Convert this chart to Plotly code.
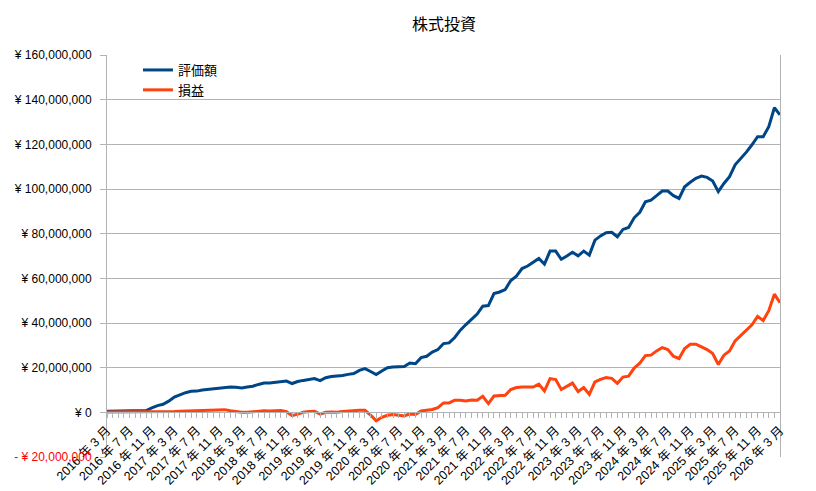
import plotly.graph_objects as go

# ---- data (millions of yen), monthly from 2016-03 to 2026-03 ----
start_year, start_month, n_months = 2016, 3, 121
months = []
for k in range(n_months):
    m = start_month - 1 + k
    months.append(f"{start_year + m // 12} 年 {m % 12 + 1} 月")

valuation_m = [
    0.5, 0.5, 0.5, 0.5, 0.5, 0.5, 0.5, 0.8, 2.0, 3.0,
    3.6, 5.0, 6.8, 7.8, 8.8, 9.4, 9.5, 10.0, 10.3, 10.6,
    11.0, 11.3, 11.3, 11.2, 10.9, 11.3, 11.7, 12.5, 13.1, 13.1,
    13.5, 13.9, 14.0, 12.9, 13.8, 14.3, 14.8, 15.1, 14.2, 15.5,
    16.0, 16.1, 16.5, 17.0, 17.4, 18.8, 19.6, 18.3, 16.9, 18.5,
    20.0, 20.3, 20.4, 20.5, 22.1, 21.8, 24.5, 25.1, 27.0, 28.1,
    30.8, 31.1, 33.5, 36.8, 39.3, 41.5, 44.0, 47.5, 47.8, 53.2,
    53.9, 55.0, 59.0, 61.0, 64.4, 65.5, 67.4, 68.9, 66.4, 72.2,
    72.2, 68.5, 70.0, 71.7, 70.1, 72.2, 70.4, 77.1, 79.0, 80.4,
    80.6, 78.6, 81.9, 82.8, 87.1, 89.6, 94.3, 95.0, 97.0, 99.1,
    99.1, 97.0, 95.8, 101.0, 103.0, 104.8, 105.8, 105.2, 103.6, 98.8,
    102.5, 105.5, 110.8, 113.5, 116.5, 119.8, 123.4, 123.4, 127.9, 136.4,
    133.2,
]

profit_m = [
    0.1, 0.1, 0.1, 0.1, 0.1, 0.1, 0.1, 0.1, 0.2, 0.2,
    0.3, 0.3, 0.4, 0.5, 0.6, 0.6, 0.7, 0.8, 0.9, 1.0,
    1.0, 1.2, 0.7, 0.2, 0.0, 0.0, 0.3, 0.4, 0.7, 0.6,
    0.6, 0.8, 0.3, -1.5, -0.8, 0.0, 0.4, 0.5, -0.8, 0.0,
    0.1, 0.0, 0.4, 0.6, 0.9, 0.9, 0.9, -1.2, -3.8, -2.2,
    -1.3, -1.0, -1.3, -1.6, -0.7, -1.0, 0.6, 1.0, 1.3, 2.1,
    4.2, 4.2, 5.4, 5.4, 5.1, 5.5, 5.4, 7.2, 3.9, 7.3,
    7.4, 7.6, 10.2, 11.1, 11.3, 11.3, 11.3, 12.6, 9.6, 15.1,
    14.7, 10.2, 11.6, 13.1, 9.3, 11.1, 8.0, 13.6, 14.8, 15.6,
    15.2, 13.0, 15.8, 16.2, 19.8, 22.0, 25.4, 25.6, 27.5, 29.0,
    28.1, 25.1, 24.1, 28.6, 30.5, 30.5, 29.3, 28.1, 26.3, 21.4,
    25.6, 27.5, 32.0, 34.3, 36.5, 39.2, 43.0, 41.1, 45.5, 52.9,
    49.1,
]

valuation = [v * 1_000_000 for v in valuation_m]
profit = [v * 1_000_000 for v in profit_m]

y_tickvals = [-20_000_000, 0, 20_000_000, 40_000_000, 60_000_000, 80_000_000,
              100_000_000, 120_000_000, 140_000_000, 160_000_000]
y_ticktext = ["<span style='color:#ff0000'>- ¥ 20,000,000</span>", "¥ 0",
              "¥ 20,000,000", "¥ 40,000,000", "¥ 60,000,000", "¥ 80,000,000",
              "¥ 100,000,000", "¥ 120,000,000", "¥ 140,000,000", "¥ 160,000,000"]

label_every = 4
x_ticktext = [m if i % label_every == 0 else "" for i, m in enumerate(months)]

series_names = ["評価額", "損益"]
series_colors = ["#004586", "#ff420e"]

FONT = "Liberation Sans, Noto Sans CJK JP, sans-serif"
GRID = "#b3b3b3"

fig = go.Figure()
fig.add_trace(go.Scatter(x=months, y=valuation, mode="lines", name=series_names[0],
                         line=dict(color=series_colors[0], width=3)))
fig.add_trace(go.Scatter(x=months, y=profit, mode="lines", name=series_names[1],
                         line=dict(color=series_colors[1], width=3)))

y_min, y_max = -20_000_000, 160_000_000
zero_pos = (0 - y_min) / (y_max - y_min)

fig.update_layout(
    width=816, height=491,
    margin=dict(l=99, r=44, t=47, b=42, autoexpand=False),
    paper_bgcolor="white", plot_bgcolor="white",
    font=dict(family=FONT, size=12, color="black"),
    title=dict(text="株式投資", x=436 / 816, xanchor="center",
               y=1 - 16 / 491, yanchor="middle", yref="container",
               font=dict(family=FONT, size=16, color="black"), automargin=False),
    showlegend=True,
    legend=dict(x=0.046, y=1.0, xanchor="left", yanchor="top",
                bgcolor="rgba(0,0,0,0)", font=dict(family=FONT, size=13),
                tracegroupgap=0),
    xaxis=dict(type="category", range=[0, n_months - 1], automargin=False,
               tickmode="array", tickvals=months, ticktext=x_ticktext,
               tickangle=-45, ticks="outside", ticklen=5, tickcolor=GRID,
               showgrid=False, showline=True, linecolor=GRID, linewidth=1,
               anchor="free", position=zero_pos, zeroline=False,
               tickfont=dict(family=FONT, size=12.5, color="black")),
    yaxis=dict(range=[y_min, y_max], tickmode="array", tickvals=y_tickvals,
               ticktext=y_ticktext, showgrid=True, gridcolor=GRID, gridwidth=1,
               zeroline=False, showline=True, linecolor=GRID, mirror=True,
               ticks="outside", ticklen=6, tickcolor=GRID, automargin=False,
               ticklabelstandoff=6,
               tickfont=dict(family=FONT, size=12, color="black")),
)

fig.write_html("out.html")
